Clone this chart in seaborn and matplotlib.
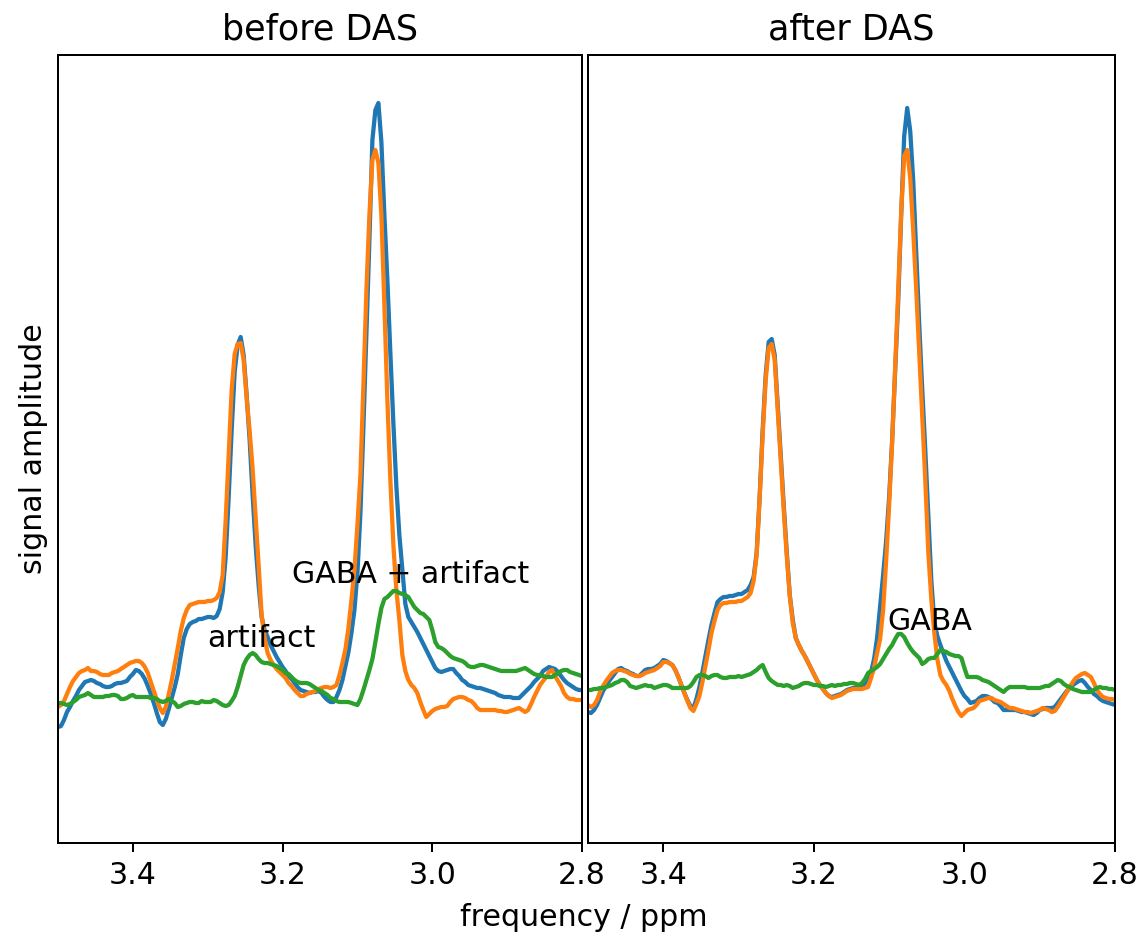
import numpy as np
import pandas as pd
import matplotlib
matplotlib.use("Agg")
import matplotlib.pyplot as plt
import seaborn as sns

# frequency grid (ppm), 0.004 ppm spacing from 3.5 down to 2.8
ppm = np.round(np.linspace(3.5, 2.8, 176), 3)

# ---------------- before DAS ----------------
before_blue = [
 -0.7,-0.6,0.0,0.8,1.3,1.9,2.4,3.0,3.4,3.8,3.9,4.0,3.9,3.7,3.6,3.4,3.3,3.3,3.4,3.6,
 3.7,3.7,3.8,3.9,4.3,4.6,5.0,4.9,4.6,4.1,3.4,2.6,1.7,0.7,-0.2,-0.5,0.1,1.1,2.2,3.3,
 4.6,6.5,8.2,9.1,9.6,9.8,9.9,10.1,10.1,10.2,10.3,10.3,10.2,10.4,11.1,12.8,16.3,22.3,29.0,34.8,
 37.5,38.3,36.5,32.5,28.0,22.5,17.5,13.5,10.3,9.0,8.3,7.5,6.9,6.3,5.8,5.3,4.9,4.4,4.1,3.7,
 3.3,3.0,2.9,2.8,2.7,2.8,2.8,2.9,2.7,2.3,2.0,1.8,1.8,2.3,3.0,4.0,5.4,6.8,8.7,11.0,
 14.7,20.7,29.3,38.7,48.0,58.0,61.0,61.7,57.8,50.5,44.0,36.7,29.7,23.4,18.5,15.0,11.6,10.3,9.8,9.3,
 8.8,8.2,7.6,7.0,6.4,5.8,5.2,4.9,4.8,4.9,5.0,5.1,5.1,4.7,4.4,4.0,3.8,3.5,3.4,3.3,
 3.2,3.2,3.1,3.0,2.9,2.8,2.7,2.5,2.4,2.3,2.3,2.3,2.2,2.2,2.2,2.5,2.8,3.1,3.4,3.8,
 4.1,4.4,4.9,5.1,5.3,5.2,5.1,4.8,4.4,4.0,3.7,3.5,3.3,3.1,3.0,3.0]
before_orange = [
 1.3,1.5,1.9,2.6,3.3,3.9,4.3,4.7,4.9,5.0,5.2,4.9,4.9,4.8,4.6,4.5,4.5,4.5,4.7,4.8,
 4.9,5.1,5.3,5.5,5.7,5.8,5.9,5.9,5.7,5.3,4.7,3.8,2.9,2.0,1.2,0.7,1.3,2.6,4.0,5.6,
 7.2,8.9,10.2,11.0,11.5,11.6,11.7,11.8,11.8,11.8,11.9,11.9,12.0,12.2,12.8,14.5,20.0,26.5,33.0,36.6,
 37.6,37.7,36.0,32.2,28.9,25.1,20.3,15.5,10.5,8.2,6.7,6.0,5.5,5.1,4.8,4.5,4.2,3.7,3.4,3.0,
 2.7,2.4,2.4,2.6,2.7,2.8,2.9,3.1,3.2,3.3,3.3,3.2,3.3,3.5,4.5,5.7,7.1,9.2,12.0,15.0,
 19.5,24.5,33.5,43.0,50.5,56.0,57.0,55.7,50.5,41.5,32.0,24.0,17.5,13.0,10.0,6.5,4.9,4.0,3.5,3.2,
 2.7,1.8,1.0,0.3,0.6,0.9,1.1,1.2,1.3,1.3,1.4,1.8,2.1,2.2,2.3,2.3,2.2,2.0,1.9,1.6,
 1.2,1.0,1.0,1.0,1.0,1.0,1.0,0.9,0.9,0.8,0.8,0.9,1.0,1.1,1.2,1.0,0.8,1.0,1.6,2.3,
 2.9,3.5,3.9,4.3,4.8,5.0,4.4,3.9,3.4,2.7,2.3,2.1,2.1,2.0,2.0,2.0]
before_green = [
 1.7,1.7,1.6,1.5,1.6,1.8,2.0,2.3,2.4,2.5,2.7,2.5,2.3,2.3,2.3,2.3,2.4,2.4,2.5,2.5,
 2.4,2.1,2.1,2.2,2.4,2.5,2.3,2.3,2.3,2.3,2.3,2.2,2.2,2.1,1.9,1.8,1.9,2.1,1.9,1.7,
 1.3,1.4,1.6,1.7,1.8,1.8,1.7,1.7,1.9,1.8,1.8,1.8,2.0,1.9,1.7,1.5,1.4,1.5,1.9,2.4,
 3.3,4.4,5.5,6.1,6.5,6.7,6.5,6.1,5.8,5.7,5.7,5.6,5.5,5.4,5.2,5.0,4.7,4.6,4.3,4.0,
 3.8,3.7,3.7,3.7,3.6,3.4,3.2,3.0,2.9,2.7,2.5,2.2,2.1,1.9,1.8,1.8,1.8,1.8,1.7,1.6,
 1.5,2.1,3.0,4.0,5.0,6.1,7.8,9.6,11.2,12.1,12.3,12.6,12.9,12.9,12.7,12.6,12.5,12.3,11.8,11.3,
 11.0,10.7,10.6,10.3,10.0,9.0,7.8,7.3,7.2,7.0,6.7,6.4,6.2,6.1,6.0,5.9,5.7,5.4,5.3,5.3,
 5.4,5.5,5.5,5.4,5.3,5.2,5.1,5.0,4.9,4.9,4.9,4.9,4.9,4.9,5.0,5.1,5.2,5.0,4.8,4.6,
 4.5,4.5,4.4,4.3,4.3,4.3,4.5,4.7,4.9,5.0,5.0,4.8,4.7,4.6,4.5,4.4]

# ---------------- after DAS ----------------
after_blue = [
 0.8,0.7,1.0,1.5,2.2,2.9,3.4,3.9,4.3,4.7,5.1,5.2,5.0,4.9,4.7,4.6,4.4,4.4,4.7,5.0,
 5.1,5.1,5.2,5.4,5.6,6.0,5.9,5.7,5.5,5.0,4.3,3.5,2.7,2.0,1.4,1.2,2.1,3.3,4.8,6.4,
 8.0,9.5,10.7,11.8,12.1,12.3,12.3,12.4,12.4,12.5,12.6,12.6,12.8,13.0,13.5,14.3,16.7,22.3,29.0,34.5,
 37.8,38.1,36.5,31.5,26.5,21.5,16.8,12.5,10.0,8.2,7.5,6.9,6.4,5.8,5.2,4.6,4.0,3.5,3.1,2.7,
 2.4,2.3,2.4,2.5,2.6,2.8,3.0,3.1,3.2,3.2,3.2,3.3,3.7,4.2,4.8,6.1,8.2,11.3,14.5,17.9,
 22.3,28.0,34.8,41.8,50.5,58.4,61.2,58.9,53.9,46.8,39.5,33.0,27.0,20.5,14.0,9.8,8.4,7.5,6.7,5.9,
 5.3,4.7,4.1,3.5,2.9,2.4,2.1,1.7,1.8,1.9,2.2,2.4,2.4,2.3,2.1,1.8,1.7,1.4,1.0,1.0,
 1.0,1.0,1.0,0.9,0.8,0.8,0.7,0.6,0.5,0.7,1.0,1.1,1.2,1.2,1.2,1.3,1.7,2.1,2.5,2.9,
 3.2,3.5,3.7,3.9,4.0,3.7,3.3,3.0,2.6,2.4,2.1,1.9,1.8,1.7,1.6,1.5]
after_orange = [
 1.5,1.3,1.5,2.0,2.8,3.4,3.9,4.3,4.7,4.9,5.0,5.0,4.9,4.8,4.6,4.5,4.4,4.4,4.5,4.7,
 4.8,4.9,5.0,5.2,5.4,5.8,5.8,5.7,5.5,5.0,4.3,3.5,2.7,1.9,1.2,0.9,1.6,2.4,3.8,5.4,
 7.0,8.7,9.9,11.0,11.5,11.7,11.7,11.8,11.8,11.8,11.9,11.9,12.1,12.3,12.7,13.9,16.5,22.2,28.5,34.0,
 37.2,37.6,36.0,31.0,26.0,21.0,16.4,12.4,9.7,8.2,7.5,6.9,6.4,5.8,5.2,4.6,4.0,3.5,3.1,2.7,
 2.4,2.2,2.3,2.4,2.5,2.7,2.9,3.0,3.1,3.1,3.1,3.1,3.2,3.3,4.2,5.2,6.7,8.1,11.0,15.9,
 21.5,27.8,35.3,42.8,50.8,56.4,57.0,54.2,48.9,43.0,36.6,30.1,24.0,16.8,12.1,8.7,6.1,4.5,3.9,3.5,
 2.9,2.1,1.4,0.8,0.4,0.7,1.0,1.1,1.2,1.5,1.9,2.0,2.1,2.2,2.2,2.0,1.9,1.8,1.6,1.4,
 1.2,1.2,1.1,1.0,0.9,0.8,0.8,0.7,0.8,0.9,1.0,1.2,1.1,1.0,0.8,0.9,1.3,1.8,2.3,2.8,
 3.3,3.8,4.2,4.4,4.6,4.7,4.5,4.3,3.7,3.0,2.6,2.3,2.2,2.1,2.1,2.0]
after_green = [
 3.0,3.0,3.1,3.1,3.2,3.2,3.3,3.4,3.5,3.7,3.8,4.0,4.0,3.8,3.4,3.3,3.2,3.3,3.4,3.5,
 3.4,3.4,3.2,3.3,3.4,3.5,3.5,3.4,3.2,3.2,3.2,3.2,3.2,3.2,3.4,3.8,4.3,4.5,4.5,4.4,
 4.2,4.4,4.5,4.5,4.3,4.2,4.2,4.3,4.3,4.3,4.4,4.3,4.4,4.5,4.6,4.8,5.0,5.3,5.5,4.8,
 4.2,3.9,3.7,3.5,3.5,3.4,3.5,3.4,3.2,3.3,3.4,3.6,3.7,3.7,3.6,3.5,3.5,3.4,3.4,3.3,
 3.4,3.5,3.4,3.5,3.5,3.6,3.6,3.7,3.7,3.6,3.5,3.7,4.1,4.7,4.9,5.1,5.3,5.6,6.1,6.6,
 7.1,7.5,8.1,8.6,8.6,8.3,7.7,7.2,6.8,6.5,6.2,5.6,5.8,6.1,6.2,6.2,6.6,7.0,6.9,6.8,
 6.6,6.5,6.4,6.4,6.2,5.2,4.3,4.3,4.3,4.3,4.2,4.0,3.9,3.8,3.6,3.4,3.2,3.0,2.8,3.1,
 3.3,3.3,3.3,3.3,3.3,3.3,3.2,3.2,3.2,3.2,3.2,3.3,3.4,3.4,3.6,3.8,4.0,3.9,3.6,3.4,
 3.3,3.1,3.0,2.9,2.8,2.8,2.8,2.8,3.0,3.2,3.3,3.2,3.2,3.1,3.1,3.0]

panel_titles = ["before DAS", "after DAS"]
x_ticks = [3.4, 3.2, 3.0, 2.8]
x_ticklabels = ["3.4", "3.2", "3.0", "2.8"]
notes_before = [("artifact", 3.30, 7.3), ("GABA + artifact", 3.188, 13.7)]
notes_after = [("GABA", 3.102, 9.0)]

W, H, DPI = 1143, 936, 180
fig = plt.figure(figsize=(W / DPI, H / DPI), dpi=DPI)
axL = fig.add_axes([58 / W, 1 - 843 / H, (582 - 58) / W, (843 - 55) / H])
axR = fig.add_axes([588 / W, 1 - 843 / H, (1115 - 588) / W, (843 - 55) / H], sharey=axL)

panels = [
    (axL, [before_blue, before_orange, before_green], notes_before, panel_titles[0]),
    (axR, [after_blue, after_orange, after_green], notes_after, panel_titles[1]),
]
colors = ["C0", "C1", "C2"]
for ax, series, notes, title in panels:
    for vals, c in zip(series, colors):
        df = pd.DataFrame({"ppm": ppm, "amp": vals})
        sns.lineplot(data=df, x="ppm", y="amp", ax=ax, color=c, linewidth=1.7,
                     estimator=None, sort=False)
    for txt, x, y in notes:
        ax.text(x, y, txt, fontsize=12, ha="left", va="baseline")
    ax.set_xlim(3.5, 2.8)
    ax.set_ylim(-12.3, 66.5)
    ax.set_xticks(x_ticks)
    ax.set_xticklabels(x_ticklabels)
    ax.tick_params(axis="x", labelsize=12)
    ax.set_yticks([])
    ax.set_xlabel("")
    ax.set_ylabel("")
    ax.set_title(title, fontsize=14)

axL.set_ylabel("signal amplitude", fontsize=12)
fig.text(0.511, 1 - 918 / H, "frequency / ppm", ha="center", va="center", fontsize=12)

fig.savefig("out.png", dpi=DPI)
